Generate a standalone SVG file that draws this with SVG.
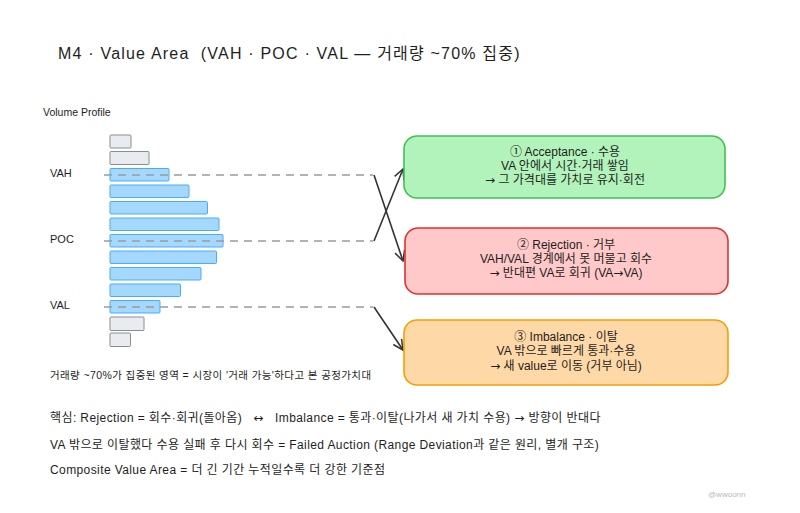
<svg xmlns="http://www.w3.org/2000/svg" width="800" height="513" viewBox="0 0 800 513">
<style>
text{font-family:"Liberation Sans","Noto Sans CJK KR",sans-serif;fill:#1e1e1e}
.t{font-size:16px;letter-spacing:1.2px}
.lbl{font-size:11px}
.sm{font-size:10.5px}
.sub{font-size:10.5px;letter-spacing:0.4px}
.bx{font-size:12px;text-anchor:middle}
.ft{font-size:12px;letter-spacing:0.4px}
.ar{font-family:"DejaVu Sans",sans-serif}
.g{fill:#e9ecef;stroke:#868e96;stroke-width:1}
.b{fill:#a5d8ff;stroke:#4dabf7;stroke-width:1}
.dash{stroke:#9a9a9a;stroke-width:1.5;stroke-dasharray:8 6;fill:none}
.arr{stroke:#333;stroke-width:1.6;fill:none;marker-end:url(#ah)}
</style>
<defs>
<marker id="ah" viewBox="0 0 12 12" refX="11" refY="6" markerWidth="12" markerHeight="12" markerUnits="userSpaceOnUse" orient="auto">
<path d="M1,1 L11,6 L1,11" fill="none" stroke="#333" stroke-width="1.5"/>
</marker>
</defs>
<rect width="800" height="513" fill="#fff"/>
<text class="t" x="58" y="59" xml:space="preserve">M4 · Value Area  (VAH · POC · VAL — 거래량 ~70% 집중)</text>
<g id="profile">
<text class="sm" x="43" y="116">Volume Profile</text>
<rect class="g" x="110" y="135" width="21" height="13" rx="1"/>
<rect class="g" x="110" y="151.5" width="39" height="13" rx="1"/>
<rect class="b" x="110" y="168.5" width="59" height="12.5" rx="1"/>
<rect class="b" x="110" y="185" width="79" height="12.5" rx="1"/>
<rect class="b" x="110" y="201.5" width="97.5" height="12.5" rx="1"/>
<rect class="b" x="110" y="218" width="109" height="12.5" rx="1"/>
<rect class="b" x="110" y="234.5" width="113" height="12.5" rx="1"/>
<rect class="b" x="110" y="251" width="106.5" height="12.5" rx="1"/>
<rect class="b" x="110" y="267.5" width="91" height="12.5" rx="1"/>
<rect class="b" x="110" y="284" width="70.5" height="12.5" rx="1"/>
<rect class="b" x="110" y="300.5" width="50" height="12.5" rx="1"/>
<rect class="g" x="110" y="317" width="34" height="13.5" rx="1"/>
<rect class="g" x="110" y="333" width="20.5" height="13.5" rx="1"/>
<text class="lbl" x="50" y="177">VAH</text>
<text class="lbl" x="50" y="243">POC</text>
<text class="lbl" x="50" y="309">VAL</text>
<text class="sub" x="50" y="379">거래량 ~70%가 집중된 영역 = 시장이 '거래 가능'하다고 본 공정가치대</text>
</g>
<g id="connectors">
<path class="dash" d="M104,175 H373"/>
<path class="dash" d="M104,241 H373"/>
<path class="dash" d="M104,307 H373"/>
<path class="arr" d="M374,175 L403,261"/>
<path class="arr" d="M374,241 L403,169"/>
<path class="arr" d="M374,307 L403,350"/>
</g>
<g id="acceptance">
<rect x="404" y="136" width="321" height="62" rx="13" fill="#b2f2bb" stroke="#40c057" stroke-width="1.6"/>
<text class="bx" x="565" y="156">① Acceptance · 수용</text>
<text class="bx" x="565" y="170">VA 안에서 시간·거래 쌓임</text>
<text class="bx" x="565" y="184"><tspan class="ar">→</tspan> 그 가격대를 가치로 유지·회전</text>
</g>
<g id="rejection">
<rect x="405" y="228" width="323" height="66" rx="13" fill="#ffc9c9" stroke="#e03131" stroke-width="1.6"/>
<text class="bx" x="566" y="249">② Rejection · 거부</text>
<text class="bx" x="566" y="263">VAH/VAL 경계에서 못 머물고 회수</text>
<text class="bx" x="566" y="277"><tspan class="ar">→</tspan> 반대편 VA로 회귀 (VA<tspan class="ar">→</tspan>VA)</text>
</g>
<g id="imbalance">
<rect x="404" y="320" width="324" height="65" rx="13" fill="#ffd8a8" stroke="#f59f00" stroke-width="1.6"/>
<text class="bx" x="566" y="341">③ Imbalance · 이탈</text>
<text class="bx" x="566" y="355">VA 밖으로 빠르게 통과·수용</text>
<text class="bx" x="566" y="370"><tspan class="ar">→</tspan> 새 value로 이동 (거부 아님)</text>
</g>
<g id="notes">
<text class="ft" x="50" y="422" xml:space="preserve">핵심: Rejection = 회수·회귀(돌아옴)   <tspan class="ar">↔</tspan>   Imbalance = 통과·이탈(나가서 새 가치 수용) <tspan class="ar">→</tspan> 방향이 반대다</text>
<text class="ft" x="50" y="449">VA 밖으로 이탈했다 수용 실패 후 다시 회수 = Failed Auction (Range Deviation과 같은 원리, 별개 구조)</text>
<text class="ft" x="50" y="474">Composite Value Area = 더 긴 기간 누적일수록 더 강한 기준점</text>
<text x="708" y="497" style="font-size:8px;fill:#bbb">@wwoonn</text>
</g>
</svg>
